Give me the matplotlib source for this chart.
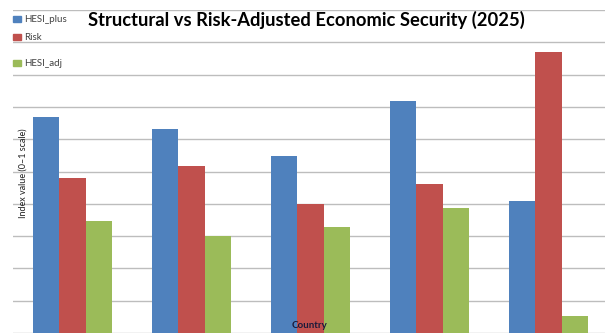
import numpy as np
import matplotlib
matplotlib.use("Agg")
import matplotlib.pyplot as plt

plt.rcParams["font.family"] = ["Lato", "DejaVu Sans"]

countries = ["C1", "C2", "C3", "C4", "C5"]
hesi_plus = [0.67, 0.631, 0.549, 0.719, 0.41]
risk = [0.479, 0.518, 0.398, 0.46, 0.871]
hesi_adj = [0.347, 0.301, 0.329, 0.388, 0.053]

series = [("HESI_plus", hesi_plus, "#4F81BD"),
          ("Risk", risk, "#C0504D"),
          ("HESI_adj", hesi_adj, "#9BBB59")]

fig = plt.figure(figsize=(6.05, 3.36), dpi=100)
ax = fig.add_axes([13 / 605, 3 / 336, 595 / 605, 323 / 336])

x = np.arange(len(countries))
w = 0.221
for i, (name, vals, col) in enumerate(series):
    ax.bar(x + (i - 1) * w, vals, w, color=col, linewidth=0,
           zorder=3, label=name)

ax.set_xlim(-0.5, 4.5)
ax.set_ylim(0, 1.0)
ax.set_yticks(np.arange(0, 1.01, 0.1))
ax.grid(axis="y", color="#bdbdbd", linewidth=1.0, zorder=0)
ax.set_xticks([])
ax.tick_params(axis="y", length=0, labelleft=False)
for s in ax.spines.values():
    s.set_visible(False)
ax.set_facecolor("none")

fig.text(0.507, 1 - 20 / 336, "Structural vs Risk-Adjusted Economic Security (2025)",
         ha="center", va="center", fontsize=13.2, fontweight="bold")

# legend, drawn by hand to keep the uneven spacing
leg_y = [19, 37, 63]
for (name, vals, col), yy in zip(series, leg_y):
    fy = 1 - yy / 336
    fig.patches.append(plt.Rectangle((13 / 605, fy - 3 / 336), 8 / 605, 6 / 336,
                                     transform=fig.transFigure, color=col,
                                     zorder=5))
    fig.text(24 / 605, fy, name, ha="left", va="center", fontsize=7,
             color="#404040")

fig.text(23 / 605, 1 - 173 / 336, "Index value (0\u20131 scale)", rotation=90,
         ha="center", va="center", fontsize=6.5, color="#202020")
fig.text(310 / 605, 1 - 326 / 336, "Country", ha="center", va="center",
         fontsize=7, fontweight="bold", color="#1a1a3a", zorder=6)

fig.savefig("out.png", dpi=100)
